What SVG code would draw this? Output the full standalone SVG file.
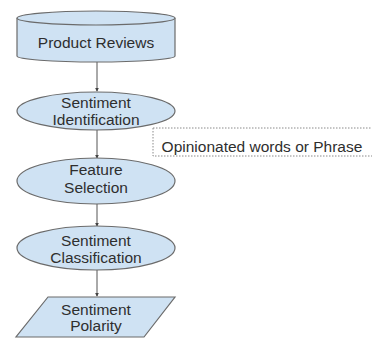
<svg xmlns="http://www.w3.org/2000/svg" width="372" height="338" viewBox="0 0 372 338">
  <style>
    .shape { fill: #cfe2f3; stroke: #6b6b6b; stroke-width: 1.2; }
    .label { font-family: "Liberation Sans", Arial, sans-serif; font-size: 15.5px; fill: #2e2e2e; text-anchor: middle; }
    .edge { stroke: #555; stroke-width: 1; fill: none; marker-end: url(#arrow); }
    .note { fill: none; stroke: #8a8a8a; stroke-width: 1; stroke-dasharray: 1.5 1.5; }
  </style>
  <defs>
    <marker id="arrow" viewBox="0 0 6 6" refX="5" refY="3" markerWidth="4" markerHeight="4" orient="auto">
      <path d="M0,0 L6,3 L0,6 Z" fill="#444"/>
    </marker>
  </defs>
  <rect width="372" height="338" fill="#ffffff"/>

  <!-- connectors -->
  <g id="connectors">
    <line class="edge" x1="97" y1="62" x2="97" y2="91"/>
    <line class="edge" x1="97" y1="130" x2="97" y2="158"/>
    <line class="edge" x1="97" y1="204" x2="97" y2="226"/>
    <line class="edge" x1="97" y1="270" x2="97" y2="296"/>
  </g>

  <!-- data store -->
  <g id="product-reviews">
    <path class="shape" d="M17,18 L17,56 A79,6 0 0 0 175,56 L175,18"/>
    <ellipse class="shape" cx="96" cy="18" rx="79" ry="7"/>
    <text class="label" x="96" y="48">Product Reviews</text>
  </g>

  <g id="sentiment-identification">
    <ellipse class="shape" cx="96" cy="111" rx="79" ry="19"/>
    <text class="label" x="96" y="108">Sentiment</text>
    <text class="label" x="96" y="125">Identification</text>
  </g>

  <g id="opinion-note">
    <path class="note" d="M153,128 L372,128 M153,128 L153,156 L372,156"/>
    <text class="label" x="262" y="152">Opinionated words or Phrase</text>
  </g>

  <g id="feature-selection">
    <ellipse class="shape" cx="96" cy="181" rx="79" ry="23"/>
    <text class="label" x="96" y="175">Feature</text>
    <text class="label" x="96" y="193">Selection</text>
  </g>

  <g id="sentiment-classification">
    <ellipse class="shape" cx="96" cy="248" rx="79" ry="22"/>
    <text class="label" x="96" y="246">Sentiment</text>
    <text class="label" x="96" y="263">Classification</text>
  </g>

  <g id="sentiment-polarity">
    <polygon class="shape" points="48,297 175,297 144,337 16,337"/>
    <text class="label" x="96" y="315">Sentiment</text>
    <text class="label" x="96" y="331">Polarity</text>
  </g>
</svg>
